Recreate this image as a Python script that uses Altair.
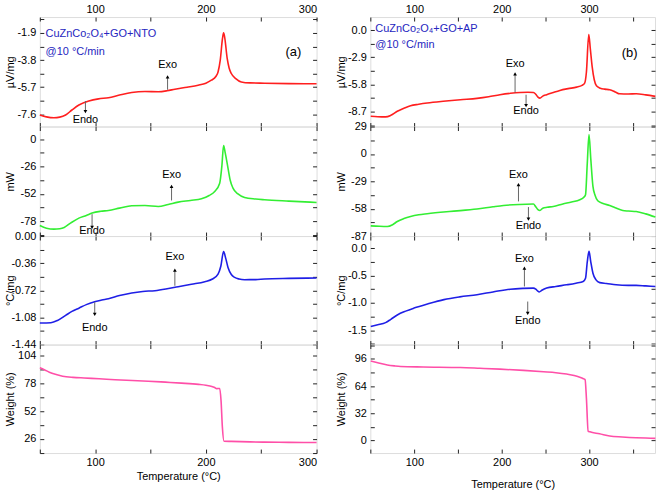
import altair as alt
import pandas as pd

# ---------------- data ----------------
# Left column: CuZnCo2O4+GO+NTO
A1_T = [50, 56, 62.8, 68, 73.3, 79, 85.3, 94.3, 103, 112, 122, 133, 145, 157, 165, 172, 183, 193, 200, 205, 209, 211, 213, 215, 216, 217, 219.3, 221, 223, 227, 232, 240, 253, 275, 300]
A1_V = [-7.65, -7.78, -7.84, -7.80, -7.65, -7.3, -6.95, -6.67, -6.52, -6.44, -6.25, -6.07, -6.0, -6.02, -5.95, -5.84, -5.70, -5.56, -5.42, -5.21, -4.95, -4.63, -3.8, -2.3, -1.88, -2.2, -3.7, -4.35, -4.74, -5.1, -5.33, -5.40, -5.42, -5.45, -5.46]

A2_T = [50, 56, 62.8, 68, 72, 78, 85.3, 92, 97.3, 105, 112, 122, 133, 145, 157, 166, 175, 186, 196, 203, 208, 212.5, 214.5, 216, 217.5, 220, 222, 224.5, 229, 235, 245, 253, 275, 300]
A2_V = [-81.9, -84.5, -85.4, -85, -83.8, -79.5, -75, -72.5, -70.2, -68.5, -67.7, -65.5, -63.2, -63.0, -63.9, -62, -59.8, -58.2, -56.6, -53.5, -49.6, -41.8, -25, -6, -13, -27.5, -39, -46.5, -52, -55.3, -56.8, -57.5, -58.8, -60.1]

A3_T = [50, 60, 66, 73.3, 79, 85.3, 92, 100.3, 106, 112, 122, 133, 143, 154, 165, 175, 187, 199, 206, 211, 213.5, 216, 218, 220, 223, 226, 230, 235, 245, 253, 275, 300]
A3_V = [-1.155, -1.15, -1.12, -1.053, -1.0, -0.957, -0.91, -0.869, -0.85, -0.833, -0.79, -0.755, -0.735, -0.725, -0.70, -0.672, -0.64, -0.606, -0.57, -0.505, -0.40, -0.207, -0.30, -0.417, -0.51, -0.549, -0.57, -0.579, -0.578, -0.57, -0.562, -0.557]

A4_T = [50, 54, 58.6, 64, 70.6, 80, 90, 103.6, 118, 133.5, 148, 163.5, 178, 193.4, 200, 205.4, 208, 209.8, 212.5, 213.7, 214.9, 216.4, 223, 240, 253, 275, 300]
A4_V = [92.5, 90.8, 88.4, 86.4, 84.7, 83.6, 83.0, 82.3, 81.4, 80.7, 80.0, 79.1, 78.2, 77, 76.2, 75.1, 74, 73, 73.2, 62, 37.2, 23.8, 23.6, 23.2, 22.9, 22.7, 22.6]

# Right column: CuZnCo2O4+GO+AP
B1_T = [50, 58, 67, 73, 80.4, 88, 95.6, 105, 114.6, 133, 152.6, 171.7, 185, 198, 210, 221, 230, 236.3, 239, 241.5, 243.8, 247, 251.5, 258, 266.6, 276, 285.7, 292, 295, 297, 299.7, 301.5, 303.6, 306, 308.5, 313, 318, 323.7, 330, 335, 345, 354, 365, 376]
B1_V = [-9.2, -9.25, -9.27, -9.1, -8.67, -8.35, -8.07, -7.92, -7.79, -7.6, -7.43, -7.29, -7.12, -6.9, -6.75, -6.66, -6.63, -6.66, -6.85, -7.15, -7.26, -7.05, -6.9, -6.7, -6.44, -6.25, -6.09, -5.9, -5.66, -4.5, -0.46, -2.0, -3.9, -5.3, -5.95, -6.2, -6.3, -6.37, -6.6, -6.8, -6.82, -6.8, -6.92, -7.08]

B2_T = [50, 60, 69, 75, 80.4, 88, 95.6, 105, 114.6, 140, 171.7, 190, 202, 220, 236.3, 239, 241.5, 243.8, 247, 252, 259, 270, 280, 289.5, 294, 296, 298, 300, 302, 304.5, 307, 310, 316, 323.7, 330, 338.7, 345, 354, 365, 376]
B2_V = [-76.2, -76.7, -76.9, -75, -71.6, -68.5, -66.3, -64.5, -63.4, -61, -58.4, -56, -54.6, -53.5, -53.1, -56, -59, -59.9, -57.5, -56.5, -55.7, -53, -51, -48.5, -46, -43.2, -10, 20.5, -5, -34.4, -44, -49.6, -52.5, -54.6, -57, -59.9, -60.5, -61, -63.5, -66.9]

B3_T = [50, 58, 67, 73, 80.4, 90, 99.5, 115, 133.8, 152, 171.7, 190, 209.8, 225, 236.3, 239, 241, 243, 246, 251.5, 262, 274.3, 285, 293.3, 296, 298, 300, 302, 304.5, 308, 312.3, 320, 331, 345, 354, 365, 376]
B3_V = [-1.43, -1.40, -1.36, -1.30, -1.22, -1.15, -1.095, -1.02, -0.94, -0.89, -0.85, -0.80, -0.75, -0.735, -0.73, -0.75, -0.78, -0.80, -0.77, -0.73, -0.70, -0.67, -0.64, -0.61, -0.55, -0.25, -0.06, -0.25, -0.46, -0.58, -0.63, -0.645, -0.67, -0.68, -0.68, -0.69, -0.70]

B4_T = [50, 58, 69, 77, 84.2, 110, 152.6, 175, 198, 225, 248, 262, 274.3, 283, 289.5, 293, 295.5, 297, 299, 301, 312, 323.7, 338, 354, 365, 376]
B4_V = [93.6, 91.5, 88.9, 87.8, 87.1, 86.5, 85.9, 85, 84, 82.5, 80.9, 79.8, 78.2, 76.5, 74.4, 73, 71.6, 50, 10.9, 10, 7.8, 5.1, 4, 3.1, 2.7, 2.3]

# axis domains / ticks
A_XDOM = [50, 300]
B_XDOM = [49.5, 375.6]
A_XTICKS = [50, 100, 150, 200, 250, 300]
B_XTICKS = [50, 100, 150, 200, 250, 300, 350]
X_LABELED = [100, 200, 300]

A1_YDOM = [-8.46, -0.78]
A1_YTICKS = [-0.95, -1.9, -2.85, -3.8, -4.75, -5.7, -6.65, -7.6]
A1_YLAB = [-1.9, -3.8, -5.7, -7.6]
A2_YDOM = [-92, 12]
A2_YTICKS = [0, -13, -26, -39, -52, -65, -78, -91]
A2_YLAB = [0, -26, -52, -78]
A3_YDOM = [-1.44, 0]
A3_YTICKS = [0, -0.18, -0.36, -0.54, -0.72, -0.9, -1.08, -1.26, -1.44]
A3_YLAB = [0, -0.36, -0.72, -1.08, -1.44]
A4_YDOM = [12.7, 114.3]
A4_YTICKS = [104, 91, 78, 65, 52, 39, 26, 13]
A4_YLAB = [104, 78, 52, 26]

B1_YDOM = [-10.3, 1.4]
B1_YTICKS = [0, -1.45, -2.9, -4.35, -5.8, -7.25, -8.7, -10.15]
B1_YLAB = [0, -2.9, -5.8, -8.7]
B2_YDOM = [-87, 29]
B2_YTICKS = [29, 14.5, 0, -14.5, -29, -43.5, -58, -72.5, -87]
B2_YLAB = [29, 0, -29, -58, -87]
B3_YDOM = [-1.76, 0.22]
B3_YTICKS = [0, -0.25, -0.5, -0.75, -1.0, -1.25, -1.5, -1.75]
B3_YLAB = [0, -0.5, -1.0, -1.5]
B4_YDOM = [-15, 113]
B4_YTICKS = [112, 96, 80, 64, 48, 32, 16, 0]
B4_YLAB = [96, 64, 32, 0]

# annotations
A_TITLE = ["CuZnCo₂O₄+GO+NTO", "@10 °C/min"]
A_TITLE_X = [55.2, 55.2]
A_TITLE_V = [-1.95, -3.2]
A_TAG = ["(a)"]
A_TAG_X = [279]
A_TAG_V = [-3.2]

B_TITLE = ["CuZnCo₂O₄+GO+AP", "@10 °C/min"]
B_TITLE_X = [55.2, 55.2]
B_TITLE_V = [0.07, -1.59]
B_TAG = ["(b)"]
B_TAG_X = [346.5]
B_TAG_V = [-2.47]

# per panel: exo x, exo text value, exo tail, exo tip, endo x, endo tail, endo tip, endo text value
A1_ARROWS = [165.4, -4.16, -5.88, -4.97, 91.2, -6.67, -7.42, -8.0]
A2_ARROWS = [169.0, -33.8, -58.2, -44.9, 97.2, -71.2, -83.8, -87.6]
A3_ARROWS = [172.0, -0.277, -0.66, -0.452, 99.6, -0.878, -1.04, -1.217]
B1_ARROWS = [215.3, -3.61, -6.66, -4.67, 227.9, -6.9, -8.07, -8.67]
B2_ARROWS = [219.2, -22.0, -50.3, -32.6, 230.6, -56.3, -69.1, -76.9]
B3_ARROWS = [226.0, -0.2, -0.70, -0.365, 229.8, -0.975, -1.19, -1.33]

FONT = "Liberation Sans"
RED, GREEN, BLUE, PINK = "#ff1f1f", "#33ee33", "#1f1fe6", "#ff4fa8"
TXT_BLUE = "#2626c0"
ROW_H = [110, 110, 109, 109]
A_W, B_W = 278, 286


def label_expr(vals, spec):
    arr = "[" + ",".join(repr(v) for v in vals) + "]"
    return ("indexof(" + arr + ", datum.value) >= 0 ? replace(format(datum.value, '"
            + spec + "'), '\u2212', '-') : ''")


AX = dict(offset=-4, tickSize=4, domain=False, grid=False, labelFont=FONT,
          labelFontSize=11, labelColor="black", tickColor="#222",
          titleFont=FONT, titleFontSize=11, titleFontWeight="normal",
          titleColor="black", labelOverlap=False)


def panel(T, V, color, xdom, xticks, ydom, yticks, ylab, yfmt, ytitle, w, h,
          row, xtitle_pad, arrows=None, titles=None, tag=None):
    df = pd.DataFrame({"T": T, "v": V})
    xsc = alt.Scale(domain=xdom, nice=False, zero=False)
    ysc = alt.Scale(domain=ydom, nice=False, zero=False)
    xexpr = label_expr(X_LABELED, "d")

    xb = dict(AX, orient="bottom", values=xticks, labelPadding=4)
    if row == 3:
        xb.update(labelExpr=xexpr, title="Temperature (°C)", titlePadding=xtitle_pad)
    else:
        xb.update(labels=False, title=None)
    xt = dict(AX, orient="top", values=xticks, labelPadding=3, title=None)
    if row == 0:
        xt.update(labelExpr=xexpr)
    else:
        xt.update(labels=False)
    yl = dict(AX, orient="left", values=yticks, labelPadding=4,
              labelExpr=label_expr(ylab, yfmt), title=ytitle,
              titlePadding=2, minExtent=26, maxExtent=26)
    yr = dict(AX, orient="right", values=yticks, labels=False, title=None)

    base = alt.Chart(df)
    line = base.mark_line(color=color, strokeWidth=1.6, interpolate="monotone").encode(
        x=alt.X("T:Q", scale=xsc, axis=alt.Axis(**xb)),
        y=alt.Y("v:Q", scale=ysc, axis=alt.Axis(**yl)),
    )
    mirror = base.mark_line(opacity=0).encode(
        x=alt.X("T:Q", scale=xsc, axis=alt.Axis(**xt)),
        y=alt.Y("v:Q", scale=ysc, axis=alt.Axis(**yr)),
    )
    layers = [line, mirror]

    def enc(xf="T", yf="v"):
        return dict(x=alt.X(xf + ":Q", scale=xsc, axis=None),
                    y=alt.Y(yf + ":Q", scale=ysc, axis=None))

    if arrows is not None:
        ex, etv, etail, etip, nx, ntail, ntip, ntv = arrows
        rules = pd.DataFrame({"T": [ex, nx], "v": [etail, ntail], "v2": [etip, ntip]})
        layers.append(alt.Chart(rules).mark_rule(color="#666", strokeWidth=1).encode(
            y2="v2:Q", **enc()))
        up = pd.DataFrame({"T": [ex], "v": [etip]})
        dn = pd.DataFrame({"T": [nx], "v": [ntip]})
        layers.append(alt.Chart(up).mark_point(shape="triangle-up", filled=True,
                                              color="black", size=14, opacity=1).encode(**enc()))
        layers.append(alt.Chart(dn).mark_point(shape="triangle-down", filled=True,
                                              color="black", size=14, opacity=1).encode(**enc()))
        lab = pd.DataFrame({"T": [ex, nx], "v": [etv, ntv], "t": ["Exo", "Endo"]})
        layers.append(alt.Chart(lab).mark_text(font=FONT, fontSize=11, color="black",
                                               align="center", baseline="middle").encode(
            text="t:N", **enc()))
    if titles is not None:
        tt, tx, tv = titles
        tdf = pd.DataFrame({"T": tx, "v": tv, "t": tt})
        layers.append(alt.Chart(tdf).mark_text(font=FONT, fontSize=11, color=TXT_BLUE,
                                               align="left", baseline="middle").encode(
            text="t:N", **enc()))
    if tag is not None:
        gt, gx, gv = tag
        gdf = pd.DataFrame({"T": gx, "v": gv, "t": gt})
        layers.append(alt.Chart(gdf).mark_text(font=FONT, fontSize=13, color="black",
                                               align="center", baseline="middle").encode(
            text="t:N", **enc()))

    return alt.layer(*layers).resolve_axis(x="independent", y="independent").properties(
        width=w, height=h)


A_pan = [
    panel(A1_T, A1_V, RED, A_XDOM, A_XTICKS, A1_YDOM, A1_YTICKS, A1_YLAB, ".1f", "µV/mg",
          A_W, ROW_H[0], 0, 3, A1_ARROWS, (A_TITLE, A_TITLE_X, A_TITLE_V), (A_TAG, A_TAG_X, A_TAG_V)),
    panel(A2_T, A2_V, GREEN, A_XDOM, A_XTICKS, A2_YDOM, A2_YTICKS, A2_YLAB, "d", "mW",
          A_W, ROW_H[1], 1, 3, A2_ARROWS),
    panel(A3_T, A3_V, BLUE, A_XDOM, A_XTICKS, A3_YDOM, A3_YTICKS, A3_YLAB, ".2f", "°C/mg",
          A_W, ROW_H[2], 2, 3, A3_ARROWS),
    panel(A4_T, A4_V, PINK, A_XDOM, A_XTICKS, A4_YDOM, A4_YTICKS, A4_YLAB, "d", "Weight (%)",
          A_W, ROW_H[3], 3, 3),
]
B_pan = [
    panel(B1_T, B1_V, RED, B_XDOM, B_XTICKS, B1_YDOM, B1_YTICKS, B1_YLAB, ".1f", "µV/mg",
          B_W, ROW_H[0], 0, 11, B1_ARROWS, (B_TITLE, B_TITLE_X, B_TITLE_V), (B_TAG, B_TAG_X, B_TAG_V)),
    panel(B2_T, B2_V, GREEN, B_XDOM, B_XTICKS, B2_YDOM, B2_YTICKS, B2_YLAB, "d", "mW",
          B_W, ROW_H[1], 1, 11, B2_ARROWS),
    panel(B3_T, B3_V, BLUE, B_XDOM, B_XTICKS, B3_YDOM, B3_YTICKS, B3_YLAB, ".1f", "°C/mg",
          B_W, ROW_H[2], 2, 11, B3_ARROWS),
    panel(B4_T, B4_V, PINK, B_XDOM, B_XTICKS, B4_YDOM, B4_YTICKS, B4_YLAB, "d", "Weight (%)",
          B_W, ROW_H[3], 3, 11),
]

cells = []
for a, b in zip(A_pan, B_pan):
    cells += [a, b]

chart = alt.concat(*cells, columns=2, spacing={"row": 0, "column": 54}, bounds="flush").properties(
    padding={"left": 4, "top": 1, "right": 0, "bottom": 0}
).configure_view(stroke="#222", strokeWidth=1.2).configure(background="white")

chart.save("out.html", embed_options={"renderer": "svg", "actions": False})
